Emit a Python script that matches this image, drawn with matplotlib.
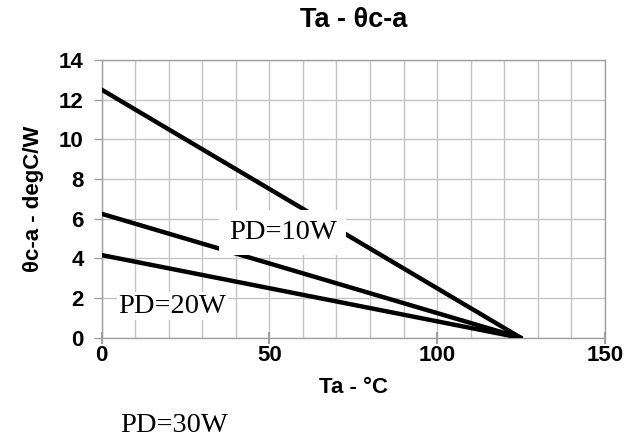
"""
Ta vs theta c-a derating chart.
"""
import numpy as np
import matplotlib
matplotlib.use('Agg')
import matplotlib.pyplot as plt
from matplotlib.ticker import MultipleLocator

# data
ta = [0, 125]
theta_pd10 = [12.5, 0]
theta_pd20 = [6.25, 0]
theta_pd30 = [4.17, 0]
x_ticks = [0, 50, 100, 150]
y_ticks = [0, 2, 4, 6, 8, 10, 12, 14]

fig = plt.figure(figsize=(6.28, 4.44), dpi=100)
ax = fig.add_axes([0.162, 0.239, 0.801, 0.626])

grid_c = '#c4c4c4'
for y in (theta_pd10, theta_pd20, theta_pd30):
    ax.plot(ta, y, color='black', lw=3.2, solid_capstyle='round', zorder=3)

ax.set_xlim(0, 150)
ax.set_ylim(0, 14)
ax.set_xticks(x_ticks)
ax.set_yticks(y_ticks)
ax.xaxis.set_minor_locator(MultipleLocator(10))
ax.grid(which='both', axis='x', color=grid_c, lw=1.0)
ax.grid(which='major', axis='y', color=grid_c, lw=1.0)
ax.set_axisbelow(True)
for s in ax.spines.values():
    s.set_color('#a0a0a0')
    s.set_linewidth(1.0)
ax.tick_params(axis='x', which='major', direction='inout', length=8, width=1.5,
               color='#a0a0a0', pad=1)
ax.tick_params(axis='x', which='minor', length=0)
ax.tick_params(axis='y', direction='out', length=6, width=1.0, color='#a0a0a0', pad=7)

for lab in ax.get_xticklabels() + ax.get_yticklabels():
    lab.set_fontfamily('Liberation Sans')
    lab.set_fontweight('bold')
    lab.set_fontsize(16)

font_b = dict(family='Liberation Sans', weight='bold', size=16)
ax.set_title('Ta - θc-a', fontdict=dict(font_b, size=19.5), pad=24)
ax.set_xlabel('Ta - °C', fontdict=font_b, labelpad=8)
ax.set_ylabel('θc-a - degC/W', fontdict=font_b, labelpad=11)

serif = dict(family='Liberation Serif', size=20.5)
ax.text(54, 5.3, 'PD=10W', ha='center', va='center', zorder=4,
        bbox=dict(facecolor='white', edgecolor='none', pad=7), **serif)
ax.text(5, 1.6, 'PD=20W', ha='left', va='center', zorder=4,
        bbox=dict(facecolor='white', edgecolor='none', pad=1), **serif)
fig.text(120 / 628, 1 - 425 / 444, 'PD=30W', ha='left', va='center', **serif)

plt.savefig('out.png', dpi=100)
plt.close()
